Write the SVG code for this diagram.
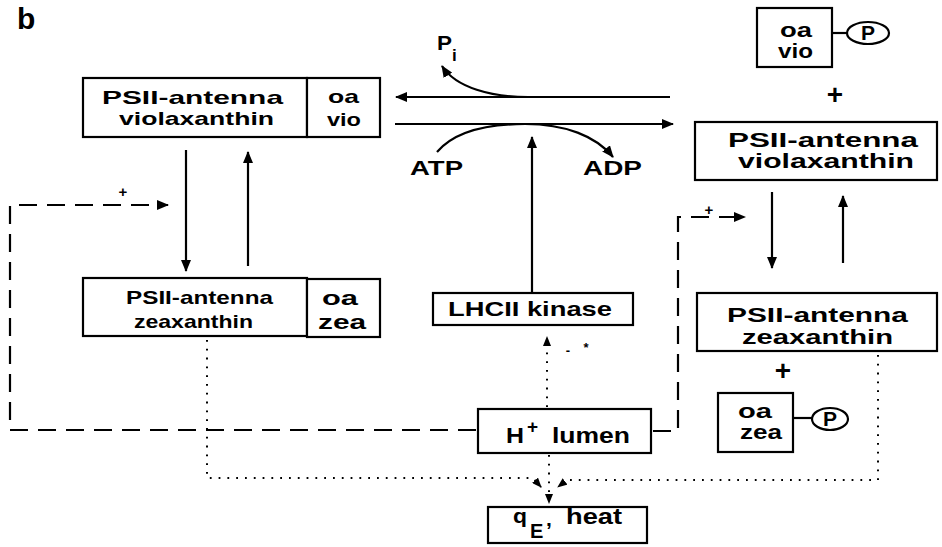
<svg xmlns="http://www.w3.org/2000/svg" width="942" height="547" viewBox="0 0 942 547">
<style>
text{font-family:"Liberation Sans",Arial,sans-serif;font-weight:bold;fill:#000}
.box{fill:#fff;stroke:#000;stroke-width:2.2}
.ln{fill:none;stroke:#000;stroke-width:2.2}
.dash{fill:none;stroke:#000;stroke-width:2.2;stroke-dasharray:18 10}
.dot{fill:none;stroke:#000;stroke-width:2;stroke-dasharray:1.8 7}
.m{font-size:21px}
.l{font-size:19px}
.s{font-size:19px}
</style>
<defs>
<marker id="ah" viewBox="0 0 12 10" markerWidth="12" markerHeight="10" refX="11" refY="5" orient="auto" markerUnits="userSpaceOnUse"><path d="M0,0 L12,5 L0,10 z" fill="#000"/></marker>
<marker id="ahs" viewBox="0 0 10 8" markerWidth="10" markerHeight="8" refX="9" refY="4" orient="auto" markerUnits="userSpaceOnUse"><path d="M0,0 L10,4 L0,8 z" fill="#000"/></marker>
</defs>
<text x="17" y="29" style="font-size:30px">b</text>

<g id="connectors">
<line class="ln" x1="670" y1="97" x2="396" y2="97" marker-end="url(#ah)"/>
<line class="ln" x1="395" y1="124" x2="673" y2="124" marker-end="url(#ah)"/>
<path class="ln" d="M528 97 C492 97 456 88 442 66" marker-end="url(#ah)"/>
<path class="ln" d="M437 152 C455 131 490 124 525 124"/>
<path class="ln" d="M525 124 C565 124 596 136 613 157" marker-end="url(#ah)"/>
<line class="ln" x1="532" y1="292" x2="532" y2="137" marker-end="url(#ah)"/>
<line class="ln" x1="186" y1="150" x2="186" y2="271" marker-end="url(#ah)"/>
<line class="ln" x1="248" y1="266" x2="248" y2="152" marker-end="url(#ah)"/>
<line class="ln" x1="772" y1="192" x2="772" y2="268" marker-end="url(#ah)"/>
<line class="ln" x1="843" y1="263" x2="843" y2="196" marker-end="url(#ah)"/>
<line class="dot" x1="547" y1="407" x2="547" y2="337" marker-end="url(#ahs)"/>
<path class="dash" d="M476 430 H10 V205 H168" marker-end="url(#ah)"/>
<path class="dash" d="M653 431 H678 V217 H745" marker-end="url(#ah)"/>
<path class="dot" d="M207 340 V478 H533 L541 487" marker-end="url(#ahs)"/>
<path class="dot" d="M878 355 V480 H567 L558 487" marker-end="url(#ahs)"/>
<line class="dot" x1="549" y1="455" x2="549" y2="503" marker-end="url(#ahs)"/>
<text x="123" y="197" style="font-size:15px" text-anchor="middle">+</text>
<text x="709" y="215" style="font-size:15px" text-anchor="middle">+</text>
<text x="568" y="355" style="font-size:13px" text-anchor="middle">-</text>
<text x="586" y="352" style="font-size:13px" text-anchor="middle">*</text>
</g>

<g id="psii-vio-left">
<rect class="box" x="83" y="78" width="224" height="59"/>
<text class="l" x="102" y="104" textLength="181" lengthAdjust="spacingAndGlyphs">PSII-antenna</text>
<text class="l" x="119" y="125" textLength="155" lengthAdjust="spacingAndGlyphs">violaxanthin</text>
</g>
<g id="oa-vio-left">
<rect class="box" x="307" y="78" width="73" height="59"/>
<text class="l" x="328" y="103" textLength="31" lengthAdjust="spacingAndGlyphs">oa</text>
<text class="l" x="327" y="126" textLength="34" lengthAdjust="spacingAndGlyphs">vio</text>
</g>
<g id="psii-zea-left">
<rect class="box" x="83" y="278" width="224" height="58"/>
<text class="s" x="126" y="304" textLength="147" lengthAdjust="spacingAndGlyphs">PSII-antenna</text>
<text class="s" x="134" y="328" textLength="119" lengthAdjust="spacingAndGlyphs">zeaxanthin</text>
</g>
<g id="oa-zea-left">
<rect class="box" x="307" y="279" width="73" height="58"/>
<text class="m" x="322" y="305" textLength="36" lengthAdjust="spacingAndGlyphs">oa</text>
<text class="m" x="318" y="329" textLength="48" lengthAdjust="spacingAndGlyphs">zea</text>
</g>
<g id="labels-center">
<text class="m" x="437" y="50" textLength="15" lengthAdjust="spacingAndGlyphs">P</text>
<text x="452" y="61" style="font-size:17px">i</text>
<text class="m" x="410" y="175" textLength="53" lengthAdjust="spacingAndGlyphs">ATP</text>
<text class="m" x="583" y="175" textLength="59" lengthAdjust="spacingAndGlyphs">ADP</text>
</g>
<g id="lhcii-kinase">
<rect class="box" x="433" y="293" width="200" height="32"/>
<text class="m" x="448" y="316" textLength="164" lengthAdjust="spacingAndGlyphs">LHCII kinase</text>
</g>
<g id="h-lumen">
<rect class="box" x="478" y="409" width="173" height="44"/>
<text x="506" y="443" style="font-size:22px" textLength="18" lengthAdjust="spacingAndGlyphs">H</text>
<text x="527" y="433" style="font-size:19px">+</text>
<text x="552" y="443" style="font-size:22px" textLength="78" lengthAdjust="spacingAndGlyphs">lumen</text>
</g>
<g id="qe-heat">
<rect class="box" x="488" y="507" width="159" height="36"/>
<text class="m" x="513" y="523" textLength="14" lengthAdjust="spacingAndGlyphs">q</text>
<text x="530" y="538" style="font-size:20px">E</text>
<text class="m" x="546" y="526">,</text>
<text x="566" y="524" style="font-size:22px" textLength="56" lengthAdjust="spacingAndGlyphs">heat</text>
</g>
<g id="oa-vio-p">
<rect class="box" x="757" y="8" width="75" height="59"/>
<text class="m" x="780" y="37" textLength="32" lengthAdjust="spacingAndGlyphs">oa</text>
<text class="m" x="778" y="58" textLength="35" lengthAdjust="spacingAndGlyphs">vio</text>
<line class="ln" x1="832" y1="33" x2="847" y2="33"/>
<ellipse class="box" cx="868" cy="33" rx="21" ry="11"/>
<text class="m" x="868" y="40" text-anchor="middle">P</text>
</g>
<text x="835" y="104" text-anchor="middle" style="font-size:28px">+</text>
<g id="psii-vio-right">
<rect class="box" x="695" y="122" width="242" height="58"/>
<text class="m" x="728" y="147" textLength="190" lengthAdjust="spacingAndGlyphs">PSII-antenna</text>
<text class="m" x="738" y="168" textLength="176" lengthAdjust="spacingAndGlyphs">violaxanthin</text>
</g>
<g id="psii-zea-right">
<rect class="box" x="697" y="293" width="240" height="58"/>
<text class="m" x="727" y="322" textLength="181" lengthAdjust="spacingAndGlyphs">PSII-antenna</text>
<text class="m" x="742" y="344" textLength="151" lengthAdjust="spacingAndGlyphs">zeaxanthin</text>
</g>
<text x="783" y="380" text-anchor="middle" style="font-size:28px">+</text>
<g id="oa-zea-p">
<rect class="box" x="718" y="393" width="75" height="59"/>
<text class="m" x="738" y="418" textLength="34" lengthAdjust="spacingAndGlyphs">oa</text>
<text class="m" x="740" y="439" textLength="42" lengthAdjust="spacingAndGlyphs">zea</text>
<line class="ln" x1="793" y1="418" x2="812" y2="418"/>
<ellipse class="box" cx="830" cy="419" rx="18" ry="11"/>
<text class="m" x="830" y="426" text-anchor="middle">P</text>
</g>
</svg>
